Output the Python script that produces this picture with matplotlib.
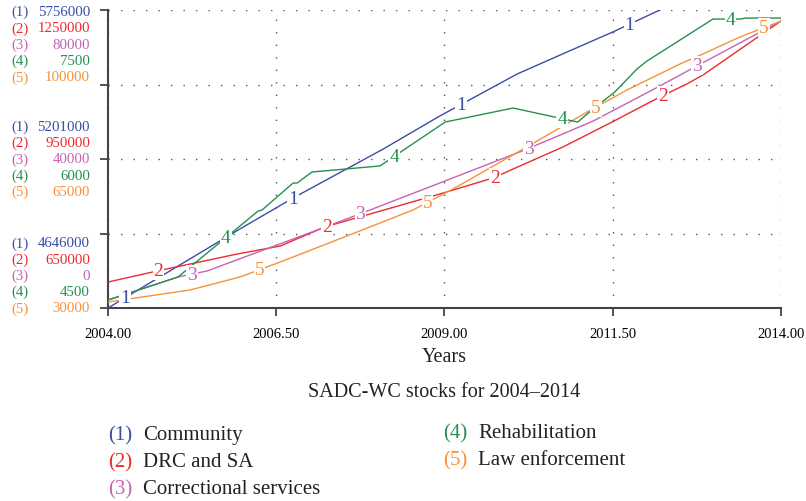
import matplotlib
matplotlib.use("Agg")
import matplotlib.pyplot as plt
import numpy as np

plt.rcParams['font.family'] = ['Liberation Serif', 'DejaVu Serif']

# series data (years, values)
community_years = [2004.00, 2005.96, 2006.75, 2008.09, 2008.93, 2010.08, 2010.82, 2011.50, 2012.20, 2013.00, 2014.00]
community_values = [4646000, 4940300, 5055700, 5238200, 5361200, 5517600, 5599500, 5674000, 5756000, 5849100, 5964600]

drc_years = [2004.00, 2004.73, 2005.92, 2006.56, 2007.22, 2008.93, 2009.72, 2010.12, 2010.76, 2011.49, 2012.20, 2012.60, 2012.84, 2014.00]
drc_values = [702300, 724500, 758700, 774800, 813100, 879500, 911700, 935900, 974200, 1024500, 1074800, 1101000, 1119100, 1227900]

correctional_years = [2004.00, 2005.04, 2005.47, 2007.15, 2007.74, 2008.93, 2010.23, 2011.21, 2012.20, 2012.72, 2014.00]
correctional_values = [2150, 8320, 9930, 21210, 25240, 33560, 42690, 50200, 59600, 64700, 77050]

rehab_years = [2004.00, 2005.04, 2006.23, 2006.29, 2006.75, 2006.81, 2007.03, 2008.04, 2009.01, 2010.02, 2010.98,
               2011.12, 2011.34, 2011.53, 2011.86, 2012.01, 2012.99, 2013.40, 2013.47, 2014.00]
rehab_values = [4580, 4812, 5476, 5487, 5758, 5758, 5869, 5930, 6372, 6513, 6372,
                6453, 6574, 6674, 6906, 6987, 7409, 7409, 7419, 7419]

law_years = [2004.00, 2005.22, 2005.96, 2006.56, 2007.55, 2008.53, 2008.93, 2009.23, 2010.12, 2011.12, 2011.71,
             2012.50, 2012.84, 2013.39, 2014.00]
law_values = [31410, 34230, 37280, 40810, 46910, 53020, 56310, 58890, 66880, 76040, 81210,
              87320, 89670, 93660, 97420]

names = ["Community", "DRC and SA", "Correctional services", "Rehabilitation", "Law enforcement"]
all_years = [community_years, drc_years, correctional_years, rehab_years, law_years]
all_values = [community_values, drc_values, correctional_values, rehab_values, law_values]

# axis range of each series (bottom, middle, top)
y_scales = [
    [4646000, 5201000, 5756000],
    [650000, 950000, 1250000],
    [0, 40000, 80000],
    [4500, 6000, 7500],
    [30000, 65000, 100000],
]
scale_labels = [
    ["4646000", "5201000", "5756000"],
    ["650000", "950000", "1250000"],
    ["0", "40000", "80000"],
    ["4500", "6000", "7500"],
    ["30000", "65000", "100000"],
]
x_ticks = [2004.0, 2006.5, 2009.0, 2011.5, 2014.0]

colors = ['#3a4da6', '#ee2a2f', '#c464b4', '#249150', '#f7923a']
draw_order = [0, 1, 2, 4, 3]

W, H = 806, 502
fig = plt.figure(figsize=(W / 100, H / 100), dpi=100)
ax = fig.add_axes([108 / W, 1 - 309 / H, (781 - 108) / W, (309 - 11) / H])


def normalize(values, scale):
    lo, hi = scale[0], scale[2]
    return (np.array(values, dtype=float) - lo) / (hi - lo)


for idx in draw_order:
    ax.plot(all_years[idx], normalize(all_values[idx], y_scales[idx]), color=colors[idx], lw=1.0, zorder=3)

# inline series numbers
for idx in range(5):
    yn = normalize(all_values[idx], y_scales[idx])
    for k in range(4):
        xl = 2004.25 + 0.5 * idx + 2.5 * k
        yl = np.interp(xl, all_years[idx], yn)
        ax.text(xl, yl, str(idx + 1), color=colors[idx], fontsize=14, ha='center', va='center', zorder=5,
                bbox=dict(boxstyle='square,pad=0.05', fc='white', ec='none'))

ax.set_xlim(2004, 2014)
ax.set_ylim(0, 1)
ax.set_xticks(x_ticks)
ax.set_xticklabels([f"{t:.2f}" for t in x_ticks], fontsize=10.5)
ax.set_yticks([0, 0.25, 0.5, 0.75, 1.0])
ax.set_yticklabels([])
ax.tick_params(direction='out', length=6, width=1.3, color='#444444', pad=8)
ax.grid(True, color='#555555', linestyle=(0, (1, 8)), linewidth=1.0)
for side in ['top', 'right']:
    ax.spines[side].set_visible(False)
for side in ['left', 'bottom']:
    ax.spines[side].set_color('#444444')
    ax.spines[side].set_linewidth(1.5)

# coloured multi-series y labels
row = 16.3 * 0.72
for g, yval in enumerate([0.0, 0.5, 1.0]):
    for i in range(5):
        if g == 0:
            off = (4 - i) * row
        elif g == 1:
            off = (2 - i) * row
        else:
            off = -i * row - 1.2
        ax.annotate(f"({i + 1})", xy=(0, yval), xycoords=('axes fraction', 'data'),
                    xytext=(-69.8, off), textcoords='offset points', ha='left', va='center',
                    fontsize=10.7, color=colors[i], annotation_clip=False)
        ax.annotate(scale_labels[i][g], xy=(0, yval), xycoords=('axes fraction', 'data'),
                    xytext=(-13, off), textcoords='offset points', ha='right', va='center',
                    fontsize=10.7, color=colors[i], annotation_clip=False)

fig.text(444.5 / W, 1 - 357 / H, "Years", fontsize=14.5, ha='center', va='center', color='#222222')
fig.text(444.5 / W, 1 - 393 / H, "SADC-WC stocks for 2004\u20132014", fontsize=14.5, ha='center', va='center',
         color='#222222')

legend_pos = [(108, 436), (108, 463), (108, 490), (443, 434), (443, 461)]
for i, (lx, ly) in enumerate(legend_pos):
    fig.text(lx / W, 1 - ly / H, f"({i + 1})", fontsize=15, color=colors[i], ha='left', va='center')
    fig.text((lx + 35) / W, 1 - ly / H, names[i], fontsize=15, color='#222222', ha='left', va='center')

fig.savefig("out.png", dpi=100)
